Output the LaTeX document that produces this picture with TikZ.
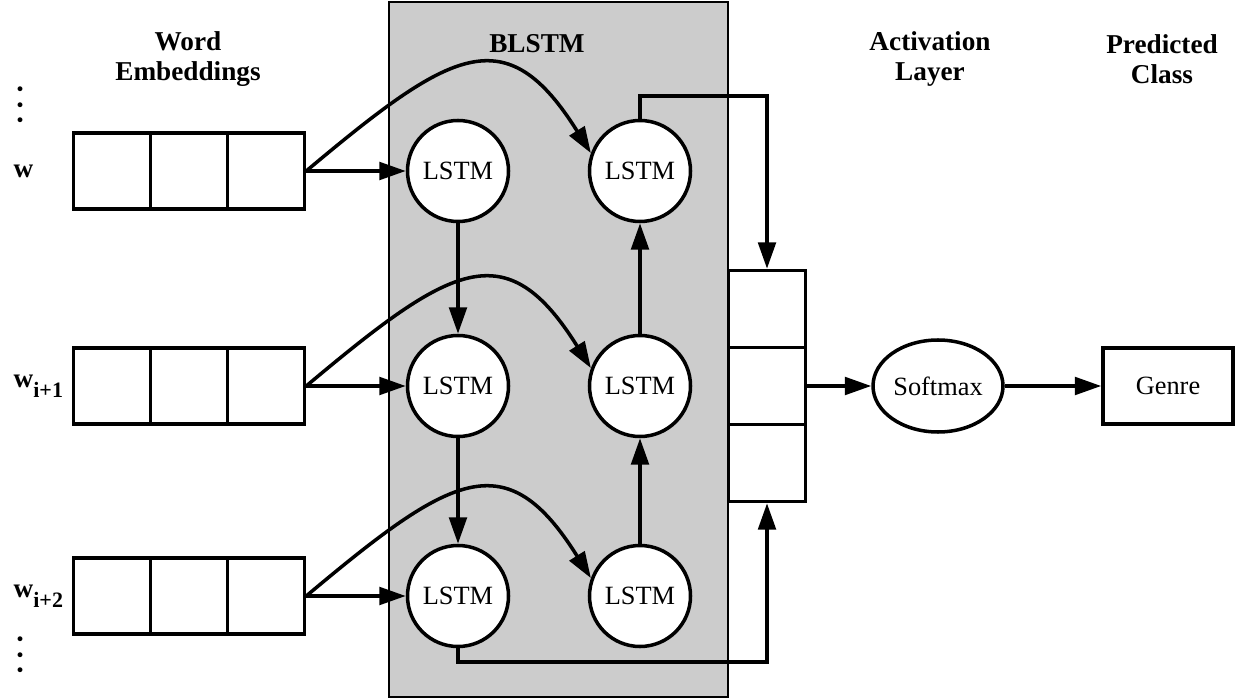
\documentclass[tikz,border=0pt]{standalone}
\usepackage{fontspec}
\setmainfont{Liberation Serif}
\usetikzlibrary{arrows.meta,shapes.geometric}
\newcommand{\bigfont}{\fontsize{15}{17}\selectfont}
\tikzset{
    cell/.style={draw, line width=2pt, minimum width=1.54cm, minimum height=1.52cm, inner sep=0pt},
    lstm/.style={draw, circle, line width=2pt, fill=white, minimum size=2.02cm, inner sep=0pt},
    link/.style={line width=2pt, -{Triangle[length=15pt,width=10pt]}},
    title/.style={font=\fontsize{15.5}{17}\selectfont\bfseries, align=center},
    dots/.style={font=\fontsize{17}{17}\selectfont\bfseries, rotate=-90, inner sep=0pt}
}
\begin{document}
\begin{tikzpicture}[auto, font=\bigfont]
        \useasboundingbox (0,0) rectangle (24.74,-13.98);
        \draw[fill=black!20, line width=1pt] (7.78,-0.04) rectangle (14.56,-13.94);

        \node[title] (tWord) at (3.76,-1.18) {Word\\Embeddings};
        \node[title] (tBlstm) at (10.74,-0.88) {BLSTM};
        \node[title] (tAct) at (18.6,-1.18) {Activation\\Layer};
        \node[title] (tPred) at (23.24,-1.18) {Predicted\\Class};

        % left labels
        \node[dots] (dTop) at (0.4,-2.1) {.\hspace{4.5pt}.\hspace{4.5pt}.};
        \node[title, anchor=west] (w1) at (0.15,-3.42) {w};
        \node[title, anchor=west] (w2) at (0.15,-7.72) {w\raisebox{-0.8ex}{\fontsize{12.5}{13}\selectfont i+1}};
        \node[title, anchor=west] (w3) at (0.15,-11.92) {w\raisebox{-0.8ex}{\fontsize{12.5}{13}\selectfont i+2}};
        \node[dots] (dBot) at (0.4,-13.1) {.\hspace{4.5pt}.\hspace{4.5pt}.};

        % word embeddings
        \node[cell] (e1a) at (2.24,-3.42) {};
        \node[cell] (e1b) at (3.78,-3.42) {};
        \node[cell] (e1c) at (5.32,-3.42) {};
        \node[cell] (e2a) at (2.24,-7.72) {};
        \node[cell] (e2b) at (3.78,-7.72) {};
        \node[cell] (e2c) at (5.32,-7.72) {};
        \node[cell] (e3a) at (2.24,-11.92) {};
        \node[cell] (e3b) at (3.78,-11.92) {};
        \node[cell] (e3c) at (5.32,-11.92) {};

        % lstm cells
        \node[lstm] (l1) at (9.16,-3.42) {LSTM};
        \node[lstm] (l2) at (9.16,-7.72) {LSTM};
        \node[lstm] (l3) at (9.16,-11.92) {LSTM};
        \node[lstm] (r1) at (12.8,-3.42) {LSTM};
        \node[lstm] (r2) at (12.8,-7.72) {LSTM};
        \node[lstm] (r3) at (12.8,-11.92) {LSTM};

        % concatenation
        \node[cell, minimum height=1.54cm] (c1) at (15.34,-6.18) {};
        \node[cell, minimum height=1.54cm] (c2) at (15.34,-7.72) {};
        \node[cell, minimum height=1.54cm] (c3) at (15.34,-9.26) {};

        \node[draw, ellipse, line width=2pt, minimum width=2.6cm, minimum height=1.84cm, inner sep=0pt] (soft) at (18.76,-7.72) {Softmax};
        \node[cell, minimum width=2.6cm] (genre) at (23.36,-7.72) {Genre};

        \draw[link] (e1c.east) -- (l1.west);
        \draw[link] (e2c.east) -- (l2.west);
        \draw[link] (e3c.east) -- (l3.west);

        \draw[link] (e1c.east) .. controls +(40:3.8) and +(122:3.2) .. (r1.160);
        \draw[link] (e2c.east) .. controls +(40:3.8) and +(122:3.2) .. (r2.160);
        \draw[link] (e3c.east) .. controls +(40:3.8) and +(122:3.2) .. (r3.160);

        \draw[link] (l1) -- (l2);
        \draw[link] (l2) -- (l3);
        \draw[link] (r3) -- (r2);
        \draw[link] (r2) -- (r1);

        \draw[link] (r1.north) |- (15.34,-1.92) -- (c1.north);
        \draw[link] (l3.south) |- (15.34,-13.24) -- (c3.south);

        \draw[link] (c2.east) -- (soft.west);
        \draw[link] (soft.east) -- (genre.west);
    \end{tikzpicture}
\end{document}
